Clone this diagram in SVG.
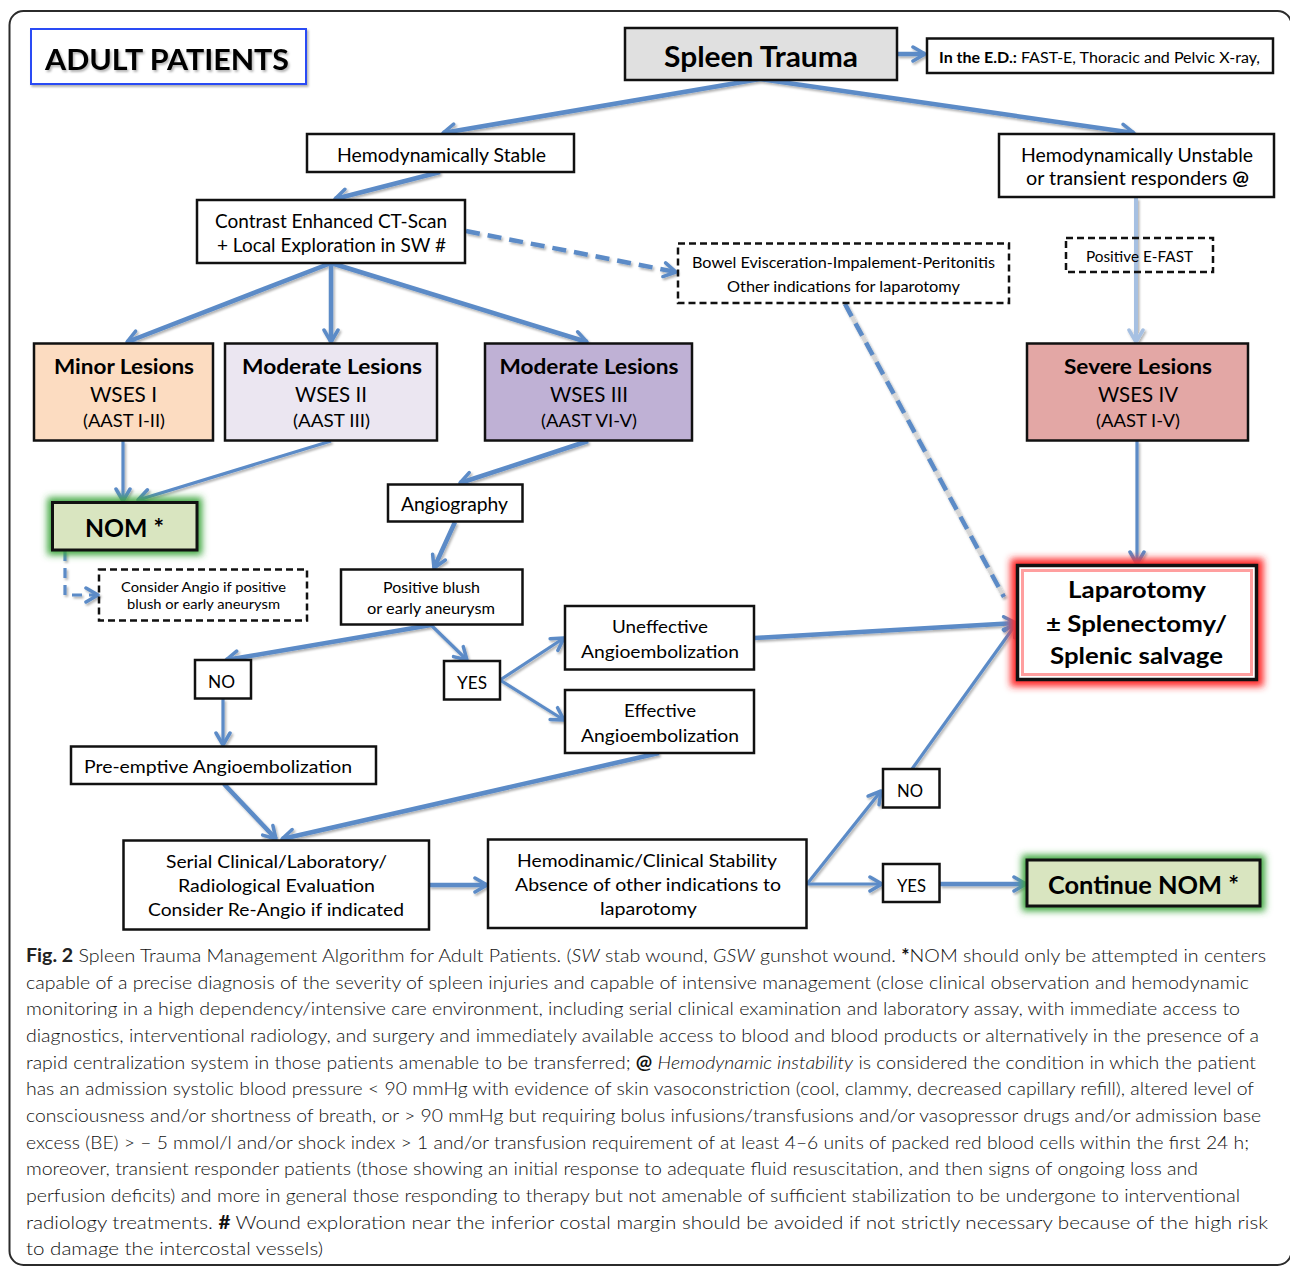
<svg xmlns="http://www.w3.org/2000/svg" width="1290" height="1267" viewBox="0 0 1290 1267">
<style>
.t{font-family:Lato,"Liberation Sans","DejaVu Sans",sans-serif;fill:#000}
.b{font-weight:bold}
.box{fill:#fff;stroke:#111;stroke-width:2.5}
.dbox{fill:none;stroke:#111;stroke-width:2.5;stroke-dasharray:7 4}
.c{fill:none;stroke:#5b8bc7;stroke-width:4.5;stroke-linecap:butt;marker-end:url(#ah)}
.thin{stroke-width:3.2}
.dash{stroke-dasharray:14 8}
.cap{font-family:Lato,"Liberation Sans","DejaVu Sans",sans-serif;font-size:18.5px;font-weight:300;fill:#111}
</style>
<defs>
<marker id="ah" markerUnits="userSpaceOnUse" viewBox="0 0 18 18" markerWidth="18" markerHeight="18" refX="15" refY="9" orient="auto">
<path d="M3,2 L15,9 L3,16" fill="none" stroke="#5b8bc7" stroke-width="3.5" stroke-linecap="round" stroke-linejoin="round"/>
</marker>
<marker id="ahl" markerUnits="userSpaceOnUse" viewBox="0 0 18 18" markerWidth="18" markerHeight="18" refX="15" refY="9" orient="auto">
<path d="M3,2 L15,9 L3,16" fill="none" stroke="#a6c0e2" stroke-width="3.5" stroke-linecap="round" stroke-linejoin="round"/>
</marker>
<filter id="sh" x="-10%" y="-10%" width="120%" height="130%">
<feDropShadow dx="1.5" dy="2" stdDeviation="1.2" flood-color="#000" flood-opacity="0.3"/>
</filter>
<filter id="blur" x="-20%" y="-30%" width="140%" height="160%">
<feGaussianBlur stdDeviation="3.5"/>
</filter>
</defs>

<rect x="9.5" y="11" width="1282" height="1254" rx="14" fill="none" stroke="#2b2b2b" stroke-width="2"/>

<g id="connectors" filter="url(#sh)">
<path class="c" d="M897,54 L925,54"/>
<path class="c" d="M760,79 L443,133"/>
<path class="c" d="M760,79 L1134,133"/>
<path class="c" d="M440,172 L335,199"/>
<path class="c dash" d="M466,231 L676,272"/>
<path class="c" d="M331,263 L127,342"/>
<path class="c" d="M331,263 L331,342"/>
<path class="c" d="M331,263 L587,342"/>
<path class="c" d="M1136,198 L1136,342" style="stroke:#a6c0e2;stroke-width:4;marker-end:url(#ahl)"/>
<path class="c thin" d="M123,441 L123,501"/>
<path class="c thin" d="M331,441 L138,500"/>
<path class="c" d="M588,441 L460,483"/>
<path class="c" d="M455,522 L434,568"/>
<path class="c thin dash" d="M65,551 L65,595 L98,595" style="stroke-dasharray:10 7"/>
<path d="M845,304 L1004,597" fill="none" stroke="#d6d6d6" stroke-width="4"/>
<path class="c dash" d="M845,304 L1004,597" style="marker-end:none"/>
<path class="c thin" d="M1137,441 L1137,564"/>
<path class="c" d="M431,625 L226,660"/>
<path class="c thin" d="M431,625 L467,660"/>
<path class="c thin" d="M500,680 L564,638"/>
<path class="c thin" d="M500,680 L564,720"/>
<path class="c" d="M754,638 L1016,623"/>
<path class="c thin" d="M223,699 L223,745"/>
<path class="c" d="M224,784 L276,839"/>
<path class="c" d="M659,753 L282,839"/>
<path class="c" d="M429,885 L487,885"/>
<path class="c thin" d="M807,884 L881,791"/>
<path class="c thin" d="M807,884 L882,884"/>
<path class="c thin" d="M912,769 L1016,624"/>
<path class="c" d="M940,884 L1026,884"/>
</g>

<g id="adult-patients">
<rect x="31" y="29" width="275" height="55" fill="#fff" stroke="#2a4cf5" stroke-width="2" filter="url(#sh)"/>
<text class="t b" x="45" y="70" font-size="29" textLength="244" lengthAdjust="spacingAndGlyphs" filter="url(#sh)">ADULT PATIENTS</text>
</g>

<g id="spleen-trauma">
<rect x="625" y="28" width="272" height="52" fill="#e0e0e0" stroke="#111" stroke-width="2.5"/>
<text class="t b" x="664" y="67" font-size="28" textLength="194" lengthAdjust="spacingAndGlyphs">Spleen Trauma</text>
</g>

<g id="ed">
<rect class="box" x="927" y="38.5" width="346" height="34.5"/>
<text class="t" x="939" y="63" font-size="15.5" textLength="321" lengthAdjust="spacingAndGlyphs"><tspan font-weight="bold">In the E.D.:</tspan> FAST-E, Thoracic and Pelvic X-ray,</text>
</g>

<g id="hemo-stable">
<rect class="box" x="307" y="134" width="267" height="38"/>
<text class="t" x="337" y="161.5" font-size="18.5" textLength="209" lengthAdjust="spacingAndGlyphs">Hemodynamically Stable</text>
</g>

<g id="hemo-unstable">
<rect class="box" x="999" y="134" width="275" height="63"/>
<text class="t" x="1021" y="161.5" font-size="18.5" textLength="232" lengthAdjust="spacingAndGlyphs">Hemodynamically Unstable</text>
<text class="t" x="1026" y="185" font-size="18.5" textLength="223" lengthAdjust="spacingAndGlyphs">or transient responders <tspan font-weight="bold">@</tspan></text>
</g>

<g id="ct-scan">
<rect class="box" x="197" y="200" width="268" height="63"/>
<text class="t" x="215" y="227.5" font-size="18.5" textLength="232" lengthAdjust="spacingAndGlyphs">Contrast Enhanced CT-Scan</text>
<text class="t" x="217" y="251.5" font-size="18.5" textLength="229" lengthAdjust="spacingAndGlyphs">+ Local Exploration in SW #</text>
</g>

<g id="bowel">
<rect class="dbox" x="678" y="243.5" width="331" height="59.5"/>
<text class="t" x="692" y="268" font-size="15" textLength="303" lengthAdjust="spacingAndGlyphs">Bowel Evisceration-Impalement-Peritonitis</text>
<text class="t" x="727" y="292" font-size="15" textLength="233" lengthAdjust="spacingAndGlyphs">Other indications for laparotomy</text>
</g>

<g id="efast">
<rect class="dbox" x="1066" y="238" width="147" height="34"/>
<text class="t" x="1086" y="262" font-size="15.5" textLength="107" lengthAdjust="spacingAndGlyphs">Positive E-FAST</text>
</g>

<g id="minor">
<rect x="34" y="343.5" width="179" height="97" fill="#fcdcc1" stroke="#111" stroke-width="2.5"/>
<text class="t b" x="54" y="374" font-size="21" textLength="140" lengthAdjust="spacingAndGlyphs">Minor Lesions</text>
<text class="t" x="90" y="401.5" font-size="21" textLength="67" lengthAdjust="spacingAndGlyphs">WSES I</text>
<text class="t" x="83" y="427" font-size="17" textLength="82" lengthAdjust="spacingAndGlyphs">(AAST I-II)</text>
</g>

<g id="moderate-2">
<rect x="225" y="343.5" width="212" height="97" fill="#ebe6f1" stroke="#111" stroke-width="2.5"/>
<text class="t b" x="242" y="374" font-size="21" textLength="180" lengthAdjust="spacingAndGlyphs">Moderate Lesions</text>
<text class="t" x="295" y="401.5" font-size="21" textLength="72" lengthAdjust="spacingAndGlyphs">WSES II</text>
<text class="t" x="293" y="427" font-size="17" textLength="77" lengthAdjust="spacingAndGlyphs">(AAST III)</text>
</g>

<g id="moderate-3">
<rect x="485" y="343.5" width="207" height="97" fill="#bfb1d5" stroke="#111" stroke-width="2.5"/>
<text class="t b" x="499.5" y="374" font-size="21" textLength="179" lengthAdjust="spacingAndGlyphs">Moderate Lesions</text>
<text class="t" x="550" y="401.5" font-size="21" textLength="78" lengthAdjust="spacingAndGlyphs">WSES III</text>
<text class="t" x="541" y="427" font-size="17" textLength="96" lengthAdjust="spacingAndGlyphs">(AAST VI-V)</text>
</g>

<g id="severe">
<rect x="1027" y="343.5" width="221" height="97" fill="#e3a7a5" stroke="#111" stroke-width="2.5"/>
<text class="t b" x="1064" y="374" font-size="21" textLength="148" lengthAdjust="spacingAndGlyphs">Severe Lesions</text>
<text class="t" x="1098" y="401.5" font-size="21" textLength="80" lengthAdjust="spacingAndGlyphs">WSES IV</text>
<text class="t" x="1096" y="427" font-size="17" textLength="84" lengthAdjust="spacingAndGlyphs">(AAST I-V)</text>
</g>

<g id="nom">
<rect x="52.5" y="502.5" width="144.5" height="47.5" fill="none" stroke="#3aa53a" stroke-width="10" filter="url(#blur)"/>
<rect x="52.5" y="502.5" width="144.5" height="47.5" fill="#d9e5c0" stroke="#111" stroke-width="3"/>
<text class="t b" x="85" y="537" font-size="24" textLength="79" lengthAdjust="spacingAndGlyphs">NOM *</text>
</g>

<g id="consider-angio">
<rect class="dbox" x="99" y="569.5" width="208" height="51"/>
<text class="t" x="121" y="591.5" font-size="14" textLength="165" lengthAdjust="spacingAndGlyphs">Consider Angio if  positive</text>
<text class="t" x="127" y="608.5" font-size="14" textLength="153" lengthAdjust="spacingAndGlyphs">blush or early aneurysm</text>
</g>

<g id="angiography">
<rect class="box" x="388" y="484.5" width="134.5" height="37"/>
<text class="t" x="401" y="511" font-size="18.5" textLength="107" lengthAdjust="spacingAndGlyphs">Angiography</text>
</g>

<g id="positive-blush">
<rect class="box" x="341" y="569.5" width="181.5" height="55"/>
<text class="t" x="383" y="593" font-size="15" textLength="97" lengthAdjust="spacingAndGlyphs">Positive blush</text>
<text class="t" x="367" y="614" font-size="15" textLength="128" lengthAdjust="spacingAndGlyphs">or early aneurysm</text>
</g>

<g id="no-1">
<rect class="box" x="195" y="660" width="56" height="38.5"/>
<text class="t" x="208" y="688" font-size="17.5" textLength="27" lengthAdjust="spacingAndGlyphs">NO</text>
</g>

<g id="yes-1">
<rect class="box" x="444" y="661" width="56" height="38.5"/>
<text class="t" x="457" y="688.5" font-size="17.5" textLength="30" lengthAdjust="spacingAndGlyphs">YES</text>
</g>

<g id="uneffective">
<rect class="box" x="565" y="606" width="189" height="63.5"/>
<text class="t" x="612" y="633" font-size="17.5" textLength="96" lengthAdjust="spacingAndGlyphs">Uneffective</text>
<text class="t" x="581" y="658" font-size="17.5" textLength="158" lengthAdjust="spacingAndGlyphs">Angioembolization</text>
</g>

<g id="effective">
<rect class="box" x="565" y="690" width="189" height="63"/>
<text class="t" x="624" y="717" font-size="17.5" textLength="72" lengthAdjust="spacingAndGlyphs">Effective</text>
<text class="t" x="581" y="742" font-size="17.5" textLength="158" lengthAdjust="spacingAndGlyphs">Angioembolization</text>
</g>

<g id="laparotomy">
<rect x="1017.5" y="565.5" width="239" height="114" fill="none" stroke="#ff2a2a" stroke-width="14" filter="url(#blur)"/>
<rect x="1017.5" y="565.5" width="239" height="114" fill="#fff" stroke="#111" stroke-width="3.5"/>
<rect x="1022.5" y="570.5" width="229" height="104" fill="none" stroke="#ff5050" stroke-width="3" opacity="0.55"/>
<text class="t b" x="1068" y="598" font-size="23" textLength="138" lengthAdjust="spacingAndGlyphs">Laparotomy</text>
<text class="t b" x="1046" y="632" font-size="23" textLength="181" lengthAdjust="spacingAndGlyphs">± Splenectomy/</text>
<text class="t b" x="1050" y="664" font-size="23" textLength="173" lengthAdjust="spacingAndGlyphs">Splenic salvage</text>
</g>

<g id="pre-emptive">
<rect class="box" x="71" y="746.5" width="305" height="37.5"/>
<text class="t" x="84" y="773" font-size="17.5" textLength="268" lengthAdjust="spacingAndGlyphs">Pre-emptive Angioembolization</text>
</g>

<g id="serial">
<rect class="box" x="123.5" y="840.5" width="305.5" height="89"/>
<text class="t" x="166" y="868" font-size="17.5" textLength="221" lengthAdjust="spacingAndGlyphs">Serial Clinical/Laboratory/</text>
<text class="t" x="178" y="892" font-size="17.5" textLength="197" lengthAdjust="spacingAndGlyphs">Radiological Evaluation</text>
<text class="t" x="148" y="916" font-size="17.5" textLength="256" lengthAdjust="spacingAndGlyphs">Consider Re-Angio if indicated</text>
</g>

<g id="hemodinamic">
<rect class="box" x="488" y="839.5" width="318.5" height="88.5"/>
<text class="t" x="517" y="867" font-size="17.5" textLength="260" lengthAdjust="spacingAndGlyphs">Hemodinamic/Clinical Stability</text>
<text class="t" x="515" y="891" font-size="17.5" textLength="266" lengthAdjust="spacingAndGlyphs">Absence of other indications to</text>
<text class="t" x="600" y="915" font-size="17.5" textLength="97" lengthAdjust="spacingAndGlyphs">laparotomy</text>
</g>

<g id="no-2">
<rect class="box" x="883" y="769" width="56.5" height="38.5"/>
<text class="t" x="897" y="797" font-size="16.5" textLength="26" lengthAdjust="spacingAndGlyphs">NO</text>
</g>

<g id="yes-2">
<rect class="box" x="883" y="864" width="56.5" height="38"/>
<text class="t" x="897" y="892" font-size="16.5" textLength="29" lengthAdjust="spacingAndGlyphs">YES</text>
</g>

<g id="continue-nom">
<rect x="1027" y="860" width="233" height="46" fill="none" stroke="#3aa53a" stroke-width="10" filter="url(#blur)"/>
<rect x="1027" y="860" width="233" height="46" fill="#d9e5c0" stroke="#111" stroke-width="3"/>
<text class="t b" x="1048" y="894" font-size="25" textLength="191" lengthAdjust="spacingAndGlyphs">Continue NOM *</text>
</g>

<g id="caption">
<text class="cap" x="26" y="962" textLength="1240" lengthAdjust="spacingAndGlyphs"><tspan font-weight="bold" fill="#222">Fig. 2</tspan> Spleen Trauma Management Algorithm for Adult Patients. (<tspan font-style="italic">SW</tspan> stab wound, <tspan font-style="italic">GSW</tspan> gunshot wound. <tspan font-weight="bold">*</tspan>NOM should only be attempted in centers</text>
<text class="cap" x="26" y="988.7" textLength="1223" lengthAdjust="spacingAndGlyphs">capable of a precise diagnosis of the severity of spleen injuries and capable of intensive management (close clinical observation and hemodynamic</text>
<text class="cap" x="26" y="1015.3" textLength="1214" lengthAdjust="spacingAndGlyphs">monitoring in a high dependency/intensive care environment, including serial clinical examination and laboratory assay, with immediate access to</text>
<text class="cap" x="26" y="1042" textLength="1233" lengthAdjust="spacingAndGlyphs">diagnostics, interventional radiology, and surgery and immediately available access to blood and blood products or alternatively in the presence of a</text>
<text class="cap" x="26" y="1068.6" textLength="1230" lengthAdjust="spacingAndGlyphs">rapid centralization system in those patients amenable to be transferred; <tspan font-weight="bold">@</tspan> <tspan font-style="italic">Hemodynamic instability</tspan> is considered the condition in which the patient</text>
<text class="cap" x="26" y="1095.3" textLength="1228" lengthAdjust="spacingAndGlyphs">has an admission systolic blood pressure &lt; 90 mmHg with evidence of skin vasoconstriction (cool, clammy, decreased capillary refill), altered level of</text>
<text class="cap" x="26" y="1122" textLength="1235" lengthAdjust="spacingAndGlyphs">consciousness and/or shortness of breath, or &gt; 90 mmHg but requiring bolus infusions/transfusions and/or vasopressor drugs and/or admission base</text>
<text class="cap" x="26" y="1148.6" textLength="1223" lengthAdjust="spacingAndGlyphs">excess (BE) &gt; – 5 mmol/l and/or shock index &gt; 1 and/or transfusion requirement of at least 4–6 units of packed red blood cells within the first 24 h;</text>
<text class="cap" x="26" y="1175.3" textLength="1172" lengthAdjust="spacingAndGlyphs">moreover, transient responder patients (those showing an initial response to adequate fluid resuscitation, and then signs of ongoing loss and</text>
<text class="cap" x="26" y="1202" textLength="1214" lengthAdjust="spacingAndGlyphs">perfusion deficits) and more in general those responding to therapy but not amenable of sufficient stabilization to be undergone to interventional</text>
<text class="cap" x="26" y="1228.6" textLength="1242" lengthAdjust="spacingAndGlyphs">radiology treatments. <tspan font-weight="bold">#</tspan> Wound exploration near the inferior costal margin should be avoided if not strictly necessary because of the high risk</text>
<text class="cap" x="26" y="1255.3" textLength="297" lengthAdjust="spacingAndGlyphs">to damage the intercostal vessels)</text>
</g>
</svg>
